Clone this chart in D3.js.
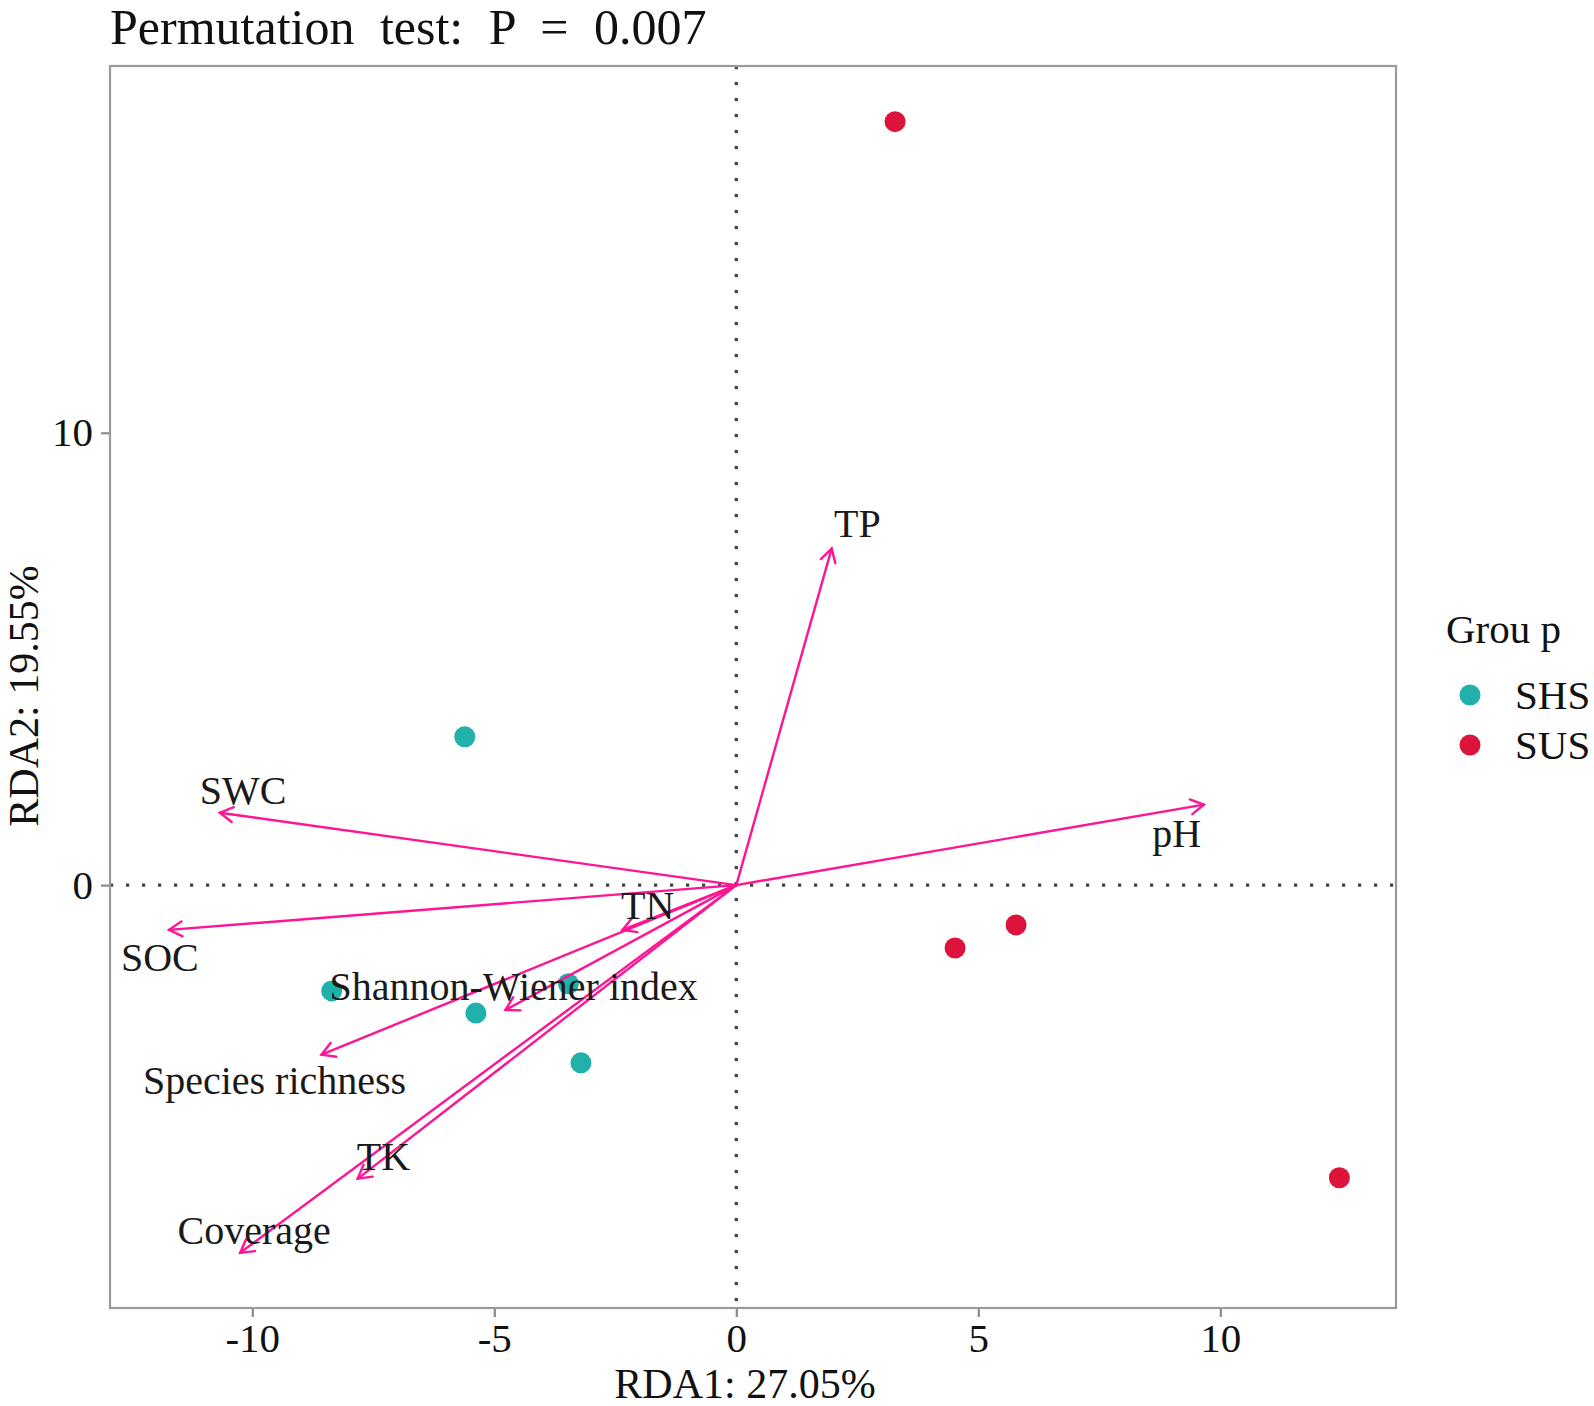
<!DOCTYPE html>
<html><head><meta charset="utf-8">
<script src="https://cdn.jsdelivr.net/npm/d3@7"></script>
<style>body{margin:0;background:#fff}svg{display:block}text{font-family:"Liberation Serif","Times New Roman",serif}</style>
</head><body>
<svg id="chart" width="1594" height="1406"></svg>
<script>
// Sample scores
const groups = ["SHS", "SUS"];
const groupColors = ["#20B2AA", "#DC143C"];
const sampleGroup = ["SHS","SHS","SHS","SHS","SHS","SUS","SUS","SUS","SUS"];
const sampleRDA1 = [-5.61, -8.36, -3.47, -5.38, -3.21, 3.28, 4.52, 5.78, 12.46];
const sampleRDA2 = [3.28, -2.34, -2.18, -2.83, -3.93, 16.88, -1.39, -0.88, -6.47];
// Environmental arrows
const envNames = ["TP","pH","SWC","SOC","TN","Shannon-Wiener index","Species richness","TK","Coverage"];
const envRDA1 = [1.97, 9.66, -10.67, -11.72, -2.35, -4.77, -8.57, -7.82, -10.25];
const envRDA2 = [7.44, 1.78, 1.60, -0.99, -0.99, -2.76, -3.75, -6.49, -8.13];
const labelRDA1 = [2.50, 9.10, -10.19, -11.91, -1.83, -4.60, -9.54, -7.29, -9.96];
const labelRDA2 = [8.00, 1.15, 2.11, -1.60, -0.43, -2.22, -4.31, -5.98, -7.62];
// Axes
const xTicks = [-10, -5, 0, 5, 10];
const yTicks = [0, 10];
const xDomain = [-12.94, 13.63];
const yDomain = [-9.35, 18.11];
const titleText = "Permutation test: P = 0.007";
const xTitle = "RDA1: 27.05%";
const yTitle = "RDA2: 19.55%";
const legendTitle = "Grou p";

const svg = d3.select("#chart");
const L = 110, R = 1396, T = 66, B = 1308;
const x = d3.scaleLinear().domain(xDomain).range([L, R]);
const y = d3.scaleLinear().domain(yDomain).range([B, T]);
const color = d3.scaleOrdinal().domain(groups).range(groupColors);
const fmt = d => String(d);

// axes
const xAxis = svg.append("g").attr("transform", `translate(0,${B})`)
  .call(d3.axisBottom(x).tickValues(xTicks).tickSize(9).tickPadding(6).tickFormat(fmt));
const yAxis = svg.append("g").attr("transform", `translate(${L},0)`)
  .call(d3.axisLeft(y).tickValues(yTicks).tickSize(9).tickPadding(8).tickFormat(fmt));
[xAxis, yAxis].forEach(a => {
  a.select(".domain").remove();
  a.selectAll(".tick line").attr("stroke", "#8a8a8a").attr("stroke-width", 2.2);
  a.selectAll(".tick text").attr("fill", "#111").attr("font-size", 41)
    .attr("font-family", "Liberation Serif");
});
xAxis.selectAll(".tick text").attr("dy", "0.71em");

// zero lines
svg.append("line").attr("x1", L).attr("x2", R).attr("y1", y(0)).attr("y2", y(0))
  .attr("stroke", "#444").attr("stroke-width", 3.2).attr("stroke-dasharray", "3.2 12.8");
svg.append("line").attr("x1", x(0)).attr("x2", x(0)).attr("y1", T).attr("y2", B)
  .attr("stroke", "#444").attr("stroke-width", 3.2).attr("stroke-dasharray", "3.2 12.8");

// points
const pts = sampleRDA1.map((v, i) => ({x: v, y: sampleRDA2[i], g: sampleGroup[i]}));
svg.append("g").selectAll("circle").data(pts).join("circle")
  .attr("cx", d => x(d.x)).attr("cy", d => y(d.y)).attr("r", 10.5)
  .attr("fill", d => color(d.g));

// arrows
const arrowColor = "#FF1493";
const env = envNames.map((n, i) => ({n, x: envRDA1[i], y: envRDA2[i], lx: labelRDA1[i], ly: labelRDA2[i]}));
const ag = svg.append("g").attr("stroke", arrowColor).attr("stroke-width", 2.4).attr("fill", "none")
  .attr("stroke-linecap", "round");
env.forEach(d => {
  const x0 = x(0), y0 = y(0), x1 = x(d.x), y1 = y(d.y);
  ag.append("line").attr("x1", x0).attr("y1", y0).attr("x2", x1).attr("y2", y1);
  const ang = Math.atan2(y1 - y0, x1 - x0);
  const len = 15, a = Math.PI / 6;
  const p = d3.path();
  p.moveTo(x1 - len * Math.cos(ang - a), y1 - len * Math.sin(ang - a));
  p.lineTo(x1, y1);
  p.lineTo(x1 - len * Math.cos(ang + a), y1 - len * Math.sin(ang + a));
  ag.append("path").attr("d", p.toString());
});

// labels
svg.append("g").selectAll("text").data(env).join("text")
  .attr("x", d => x(d.lx)).attr("y", d => y(d.ly)).attr("dy", "0.35em")
  .attr("text-anchor", "middle").attr("font-size", 40).attr("fill", "#1a1a1a")
  .text(d => d.n);

// panel border
svg.append("rect").attr("x", L).attr("y", T).attr("width", R - L).attr("height", B - T)
  .attr("fill", "none").attr("stroke", "#9a9a9a").attr("stroke-width", 2.2);

// titles
svg.append("text").attr("x", 110).attr("y", 44).attr("font-size", 50).attr("fill", "#111")
  .attr("word-spacing", 13).text(titleText);
svg.append("text").attr("x", 745).attr("y", 1398).attr("text-anchor", "middle")
  .attr("font-size", 42).attr("fill", "#111").text(xTitle);
svg.append("text").attr("transform", "translate(38,696) rotate(-90)").attr("text-anchor", "middle")
  .attr("font-size", 42).attr("fill", "#111").text(yTitle);

// legend
const lg = svg.append("g");
lg.append("text").attr("x", 1446).attr("y", 643).attr("font-size", 41).attr("fill", "#111").text(legendTitle);
groups.forEach((g, i) => {
  const cy = 695 + i * 50;
  lg.append("circle").attr("cx", 1470).attr("cy", cy).attr("r", 10.5).attr("fill", color(g));
  lg.append("text").attr("x", 1515).attr("y", cy).attr("dy", "0.35em").attr("font-size", 41)
    .attr("fill", "#111").text(g);
});
</script>
</body></html>
